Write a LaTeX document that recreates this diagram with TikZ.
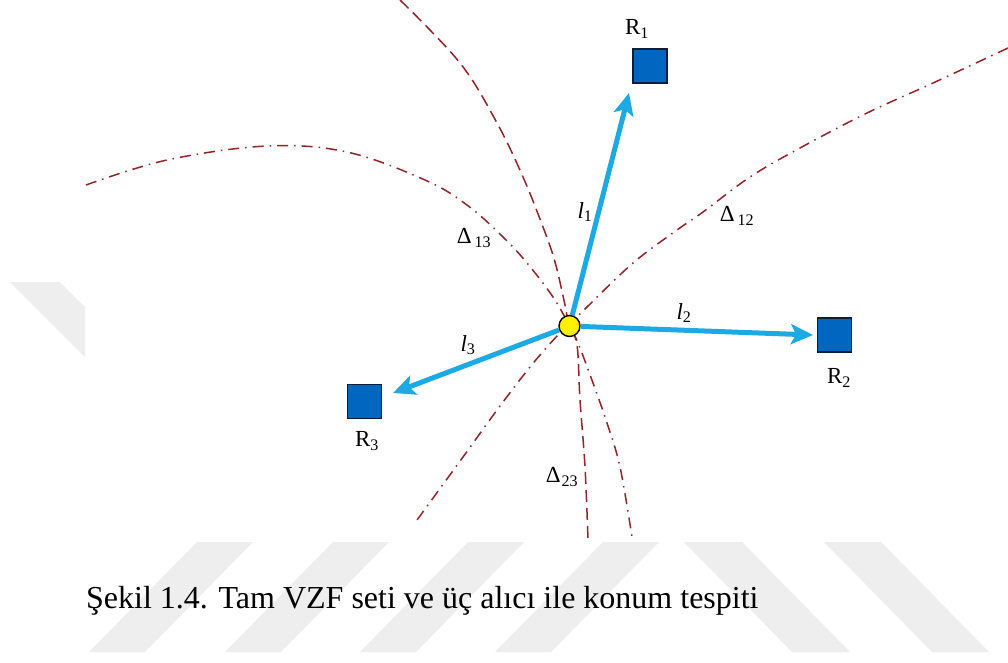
\documentclass[tikz,border=0pt]{standalone}
\usepackage{fontspec}
\setmainfont{Liberation Serif}
\usetikzlibrary{arrows.meta}
\definecolor{curvered}{RGB}{150,35,40}
\definecolor{arrowblue}{RGB}{27,170,228}
\definecolor{boxblue}{RGB}{0,102,192}
\definecolor{boxedge}{RGB}{10,30,60}
\definecolor{wmgray}{RGB}{238,238,238}
\definecolor{dotyellow}{RGB}{255,240,0}
\begin{document}
\begin{tikzpicture}[x=1pt,y=-1pt,
  longdash/.style={curvered, line width=1.5pt, dash pattern=on 12pt off 6pt},
  dashdot/.style={curvered, line width=1.5pt, dash pattern=on 11pt off 6pt on 1.5pt off 6pt},
  vec/.style={arrowblue, line width=5pt, -{Stealth[length=22pt,width=20pt,inset=5pt]}},
  recv/.style={draw=boxedge, fill=boxblue, line width=1.4pt, minimum size=34pt, inner sep=0pt},
  lbl/.style={font=\fontsize{23}{27}\selectfont, inner sep=0pt},
  wm/.style={fill=wmgray, draw=none}]
\useasboundingbox (0,0) rectangle (1008,662);
\fill[white] (0,0) rectangle (1008,662);
% watermark
\fill[wm] (10,282) -- (60,282) -- (85,307) -- (85,357) -- cycle;
\fill[wm] (197,542) -- (253,542) -- (145,652) -- (89,652) -- cycle;
\fill[wm] (333,542) -- (389,542) -- (281,652) -- (225,652) -- cycle;
\fill[wm] (468,542) -- (524,542) -- (416,652) -- (360,652) -- cycle;
\fill[wm] (603,542) -- (659,542) -- (551,652) -- (495,652) -- cycle;
\fill[wm] (684,542) -- (742,542) -- (850,652) -- (792,652) -- cycle;
\fill[wm] (824,542) -- (881,542) -- (989,652) -- (932,652) -- cycle;
% curves
\draw[longdash] plot[smooth, tension=0.6] coordinates {(400,0) (460,63) (497,123) (523,177) (543,227) (555,262) (565,305) (569,325) (577,345) (580,400) (585,467) (588,540)};
\draw[dashdot] plot[smooth, tension=0.6] coordinates {(86,185) (167,160) (267,146) (347,152) (425,180) (467,205) (503,237) (527,263) (553,297) (569,325) (578,343) (593,383) (607,423) (620,467) (632,537)};
\draw[dashdot] plot[smooth, tension=0.6] coordinates {(1008,48) (933,83) (867,113) (800,148) (750,177) (703,212) (677,230) (633,263) (587,307) (569,325) (557,336) (530,367) (497,410) (463,457) (417,520)};
% receivers and emitter
\node[recv] (r1) at (650,66) {};
\node[recv] (r2) at (834.5,335) {};
\node[recv] (r3) at (364.5,401.5) {};
\node[circle, draw=black, fill=dotyellow, line width=1.4pt, minimum size=21pt, inner sep=0pt] (c) at (569.5,326) {};
\coordinate (t1) at (629,93);
\coordinate (t2) at (813,335);
\coordinate (t3) at (393,393);
\draw[vec] (c) -- (t1);
\draw[vec] (c) -- (t2);
\draw[vec] (c) -- (t3);
% labels
\node[lbl] (lr1) at (637,29) {R\textsubscript{1}};
\node[lbl] (lr2) at (839,378) {R\textsubscript{2}};
\node[lbl] (lr3) at (367,441) {R\textsubscript{3}};
\node[lbl] (ll1) at (585,212) {\textit{l}\textsubscript{1}};
\node[lbl] (ll2) at (684,313) {\textit{l}\textsubscript{2}};
\node[lbl] (ll3) at (468,345) {\textit{l}\textsubscript{3}};
\node[lbl] (d13) at (474,238) {Δ\kern3pt\textsubscript{13}};
\node[lbl] (d12) at (737,216) {Δ\kern3pt\textsubscript{12}};
\node[lbl] (d23) at (562,477) {Δ\kern1pt\textsubscript{23}};
\node[anchor=base west, font=\fontsize{32}{38}\selectfont, inner sep=0pt] (cap) at (86,608) {Şekil 1.4. Tam VZF seti ve üç alıcı ile konum tespiti};
\end{tikzpicture}
\end{document}
